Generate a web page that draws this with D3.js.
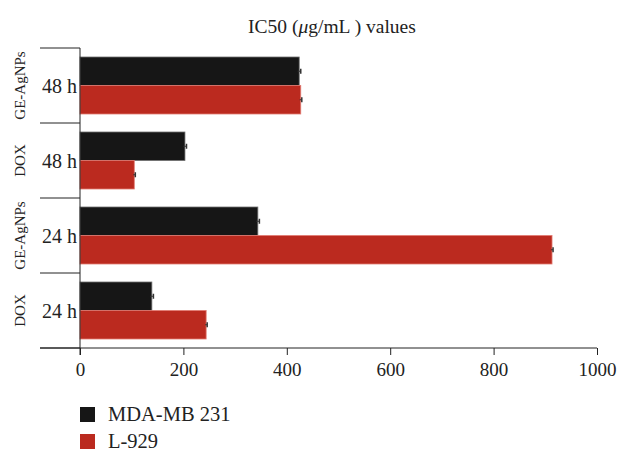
<!DOCTYPE html>
<html>
<head>
<meta charset="utf-8">
<script src="https://cdn.jsdelivr.net/npm/d3@7"></script>
<style>
  body { margin: 0; background: #fff; }
  text { font-family: "Liberation Serif", "DejaVu Serif", serif; fill: #222; }
</style>
</head>
<body>
<div id="chart"></div>
<script>
// groups from top to bottom
var groups = ["GE-AgNPs 48 h", "DOX 48 h", "GE-AgNPs 24 h", "DOX 24 h"];
var drugs = ["GE-AgNPs", "DOX", "GE-AgNPs", "DOX"];
var times = ["48 h", "48 h", "24 h", "24 h"];
var series = ["MDA-MB 231", "L-929"];
var mdaValues = [424, 203, 344, 139];
var l929Values = [427, 105, 913, 244];
var mdaErr = [3, 3, 3, 3];
var l929Err = [2, 2, 2, 2];
var xTicks = [0, 200, 400, 600, 800, 1000];
var colors = ["#161616", "#bb2a1f"];
var strokes = ["#6f6f6f", "#e27b72"];

var svg = d3.select("#chart").append("svg").attr("width", 618).attr("height", 451);

var x = d3.scaleLinear().domain([0, 1000]).range([80, 597]);
var y0 = d3.scaleBand().domain(groups).range([48, 348]).paddingInner(0.24).paddingOuter(0.12);
var y1 = d3.scaleBand().domain(series).range([0, y0.bandwidth()]);

var rows = groups.map(function(g, i) {
  return {g: g, vals: [
    {s: series[0], v: mdaValues[i], e: mdaErr[i]},
    {s: series[1], v: l929Values[i], e: l929Err[i]}
  ]};
});

var title = svg.append("text").attr("x", 332).attr("y", 33).attr("text-anchor", "middle")
  .style("font-size", "19.5px");
title.append("tspan").text("IC50 (");
title.append("tspan").style("font-style", "italic").text("μ");
title.append("tspan").text("g/mL ) values");

var grp = svg.append("g").selectAll("g").data(rows).enter().append("g")
  .attr("transform", function(d) { return "translate(0," + y0(d.g) + ")"; });

grp.selectAll("rect").data(function(d) { return d.vals; }).enter().append("rect")
  .attr("x", x(0))
  .attr("y", function(d) { return y1(d.s); })
  .attr("width", function(d) { return x(d.v) - x(0); })
  .attr("height", y1.bandwidth())
  .style("fill", function(d, i) { return colors[i]; })
  .style("stroke", function(d, i) { return strokes[i]; })
  .style("stroke-width", 0.8);

// error whiskers
grp.selectAll("line.err").data(function(d) { return d.vals; }).enter().append("line")
  .attr("class", "err")
  .attr("x1", function(d) { return x(d.v - d.e); })
  .attr("x2", function(d) { return x(d.v + d.e); })
  .attr("y1", function(d) { return y1(d.s) + y1.bandwidth() / 2; })
  .attr("y2", function(d) { return y1(d.s) + y1.bandwidth() / 2; })
  .style("stroke", "#333").style("stroke-width", 1);
grp.selectAll("line.cap").data(function(d) { return d.vals; }).enter().append("line")
  .attr("class", "cap")
  .attr("x1", function(d) { return x(d.v + d.e); })
  .attr("x2", function(d) { return x(d.v + d.e); })
  .attr("y1", function(d) { return y1(d.s) + y1.bandwidth() / 2 - 2.5; })
  .attr("y2", function(d) { return y1(d.s) + y1.bandwidth() / 2 + 2.5; })
  .style("stroke", "#333").style("stroke-width", 1.5);

// group separators on the left
var step = y0.step();
d3.range(groups.length + 1).forEach(function(i) {
  var yy = y0.range()[0] + i * step;
  svg.append("line").attr("x1", 40).attr("x2", 80).attr("y1", yy).attr("y2", yy)
    .style("stroke", "#222").style("stroke-width", 1);
});

// vertical axis line
svg.append("line").attr("x1", 80).attr("x2", 80).attr("y1", 48).attr("y2", 355)
  .style("stroke", "#222").style("stroke-width", 1);

// labels
groups.forEach(function(g, i) {
  var cy = y0(g) + y0.bandwidth() / 2;
  svg.append("text").attr("x", 77).attr("y", cy + 7).attr("text-anchor", "end")
    .style("font-size", "20px").text(times[i]);
  svg.append("text").attr("transform", "translate(25," + cy + ") rotate(-90)")
    .attr("text-anchor", "middle").style("font-size", "15px").text(drugs[i]);
});

// x axis
var xAxis = d3.axisBottom(x).tickValues(xTicks).tickFormat(d3.format("d"))
  .tickSize(7).tickSizeOuter(0).tickPadding(8);
var ax = svg.append("g").attr("transform", "translate(0,348)").call(xAxis);
ax.select(".domain").remove();
ax.selectAll("line").style("stroke", "#222");
ax.selectAll("text").style("font-size", "19px").style("font-family", "Liberation Serif, serif").style("fill", "#222");
svg.append("line").attr("x1", 40).attr("x2", 597).attr("y1", 348).attr("y2", 348)
  .style("stroke", "#222").style("stroke-width", 1);

// legend
var leg = svg.append("g").selectAll("g").data(series).enter().append("g")
  .attr("transform", function(d, i) { return "translate(80," + (407 + i * 27) + ")"; });
leg.append("rect").attr("width", 15).attr("height", 15)
  .style("fill", function(d, i) { return colors[i]; });
leg.append("text").attr("x", 28).attr("y", 14).style("font-size", "20.5px").text(function(d) { return d; });
</script>
</body>
</html>
